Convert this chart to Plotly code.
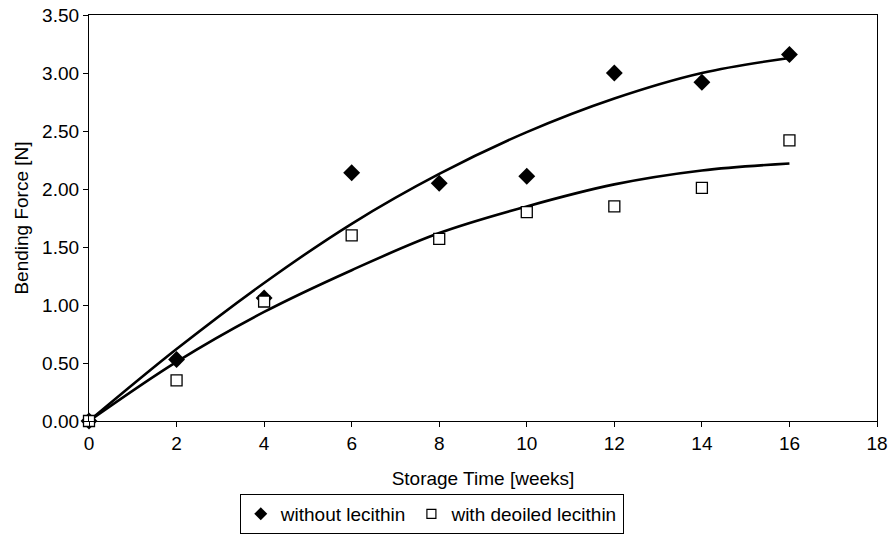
import plotly.graph_objects as go

weeks = [0, 2, 4, 6, 8, 10, 12, 14, 16]
without_lecithin = [0.00, 0.53, 1.06, 2.14, 2.05, 2.11, 3.00, 2.92, 3.16]
with_deoiled_lecithin = [0.00, 0.35, 1.03, 1.60, 1.57, 1.80, 1.85, 2.01, 2.42]

# trend lines
trend_without = [0.00, 0.62, 1.19, 1.70, 2.13, 2.49, 2.78, 3.00, 3.13]
trend_with = [0.00, 0.51, 0.94, 1.30, 1.62, 1.85, 2.04, 2.16, 2.22]

x_ticks = [0, 2, 4, 6, 8, 10, 12, 14, 16, 18]
y_ticks = [0.0, 0.5, 1.0, 1.5, 2.0, 2.5, 3.0, 3.5]

font_family = "Liberation Sans, Arial, sans-serif"

fig = go.Figure()
fig.add_trace(go.Scatter(x=weeks, y=trend_without, mode="lines", line=dict(color="black", width=2.6, shape="spline"),
                         showlegend=False, hoverinfo="skip"))
fig.add_trace(go.Scatter(x=weeks, y=trend_with, mode="lines", line=dict(color="black", width=2.6, shape="spline"),
                         showlegend=False, hoverinfo="skip"))
fig.add_trace(go.Scatter(x=weeks, y=without_lecithin, mode="markers", name="without lecithin", showlegend=False,
                         marker=dict(symbol="diamond", size=13, color="black"), cliponaxis=False))
fig.add_trace(go.Scatter(x=weeks, y=with_deoiled_lecithin, mode="markers", name="with deoiled lecithin",
                         showlegend=False,
                         marker=dict(symbol="square", size=11, color="white", line=dict(color="black", width=1.3)),
                         cliponaxis=False))
# legend entries with the small symbols used in the reference legend
fig.add_trace(go.Scatter(x=[None], y=[None], mode="markers", name="without lecithin",
                         marker=dict(symbol="diamond", size=10, color="black")))
fig.add_trace(go.Scatter(x=[None], y=[None], mode="markers", name="with deoiled lecithin",
                         marker=dict(symbol="square", size=9, color="white", line=dict(color="black", width=1.2))))

axis_common = dict(showline=True, linecolor="black", linewidth=1.2, mirror=True, showgrid=False, zeroline=False,
                   ticks="outside", ticklen=5, tickcolor="black", automargin=False,
                   tickfont=dict(size=19, color="black", family=font_family))

fig.update_layout(
    width=896, height=540,
    margin=dict(l=89, r=19, t=15, b=119, autoexpand=False),
    paper_bgcolor="white", plot_bgcolor="white",
    font=dict(family=font_family, size=19, color="black"),
    xaxis=dict(range=[0, 18], tickvals=x_ticks, ticktext=[str(v) for v in x_ticks],
               title=dict(text="Storage Time [weeks]", font=dict(size=19), standoff=18), **axis_common),
    yaxis=dict(range=[0, 3.5], tickvals=y_ticks, ticktext=[f"{v:.2f}" for v in y_ticks],
               title=dict(text="Bending Force [N]", font=dict(size=19), standoff=8), **axis_common),
    legend=dict(orientation="h", x=0.435, xanchor="center", y=-0.229, yanchor="middle",
                bordercolor="black", borderwidth=1, font=dict(size=19), itemwidth=30,
                tracegroupgap=0),
)

fig.write_html("out.html")
